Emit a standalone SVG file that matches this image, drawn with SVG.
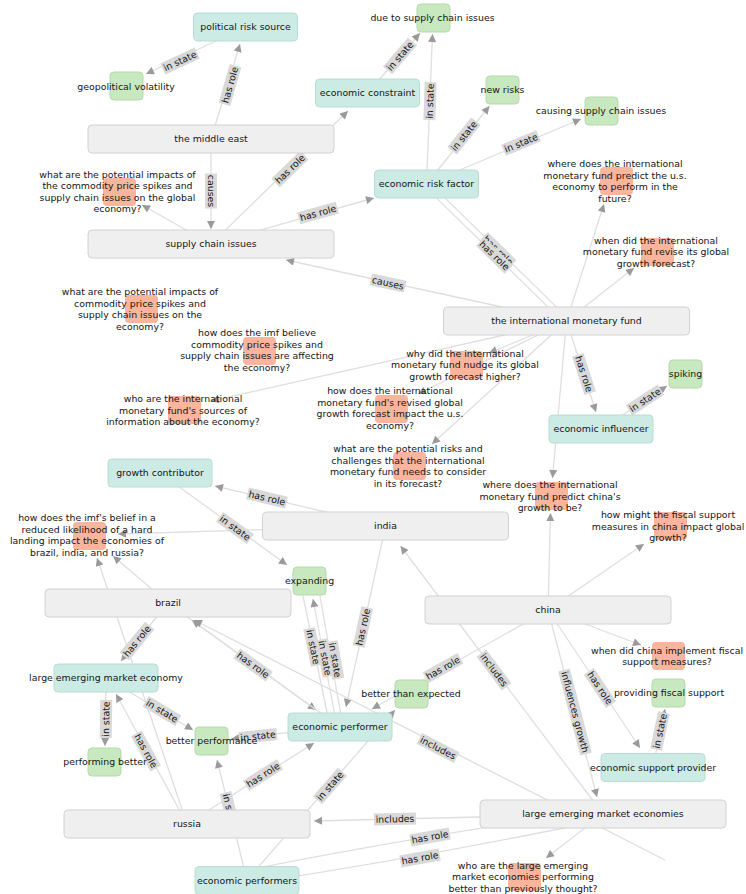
<svg xmlns="http://www.w3.org/2000/svg" width="746" height="894" viewBox="0 0 746 894">
<defs>
<marker id="arr" viewBox="0 0 10 10" refX="10" refY="5" markerWidth="9" markerHeight="8" markerUnits="userSpaceOnUse" orient="auto"><path d="M0,0 L10,5 L0,10 z" fill="#9a9a9a"/></marker>
<style>
.e{fill:none;stroke:#dfdfdf;stroke-width:1.3}
.a{marker-end:url(#arr)}
.el rect{fill:#d9d9d9}
text{font-family:"DejaVu Sans",Verdana,sans-serif;font-size:9.4px;fill:#151515;text-anchor:middle}
.g rect{fill:#efefef;stroke:#d2d2d2}
.t rect{fill:#cdebe5;stroke:#b8dcd4}
.s rect{fill:#c8e8c0;stroke:#b6d9ad}
.q rect{fill:#fab59c}
</style>
</defs>
<rect width="746" height="894" fill="#fff"/>
<g id="connectors">
<path class="e a" d="M245.5,27 L146,74"/>
<path class="e a" d="M211,139 L240,44"/>
<path class="e a" d="M211,244 L348,111"/>
<path class="e a" d="M211,139 L211,229"/>
<path class="e a" d="M211,244 L142,205"/>
<path class="e a" d="M211,244 L374,198"/>
<path class="e a" d="M367.5,93 L420,33"/>
<path class="e a" d="M426.5,184 L432.5,34"/>
<path class="e a" d="M426.5,184 L489.5,106"/>
<path class="e a" d="M426.5,184 L581,119"/>
<path class="e" d="M428.6,181.9 L568.6,318.9"/>
<path class="e" d="M424.4,186.1 L564.4,323.1"/>
<path class="e a" d="M566.5,321 L286,260"/>
<path class="e a" d="M566.5,321 L604,204"/>
<path class="e a" d="M566.5,321 L634,268"/>
<path class="e a" d="M566.5,321 L489,353"/>
<path class="e a" d="M566.5,321 L211,401"/>
<path class="e a" d="M566.5,321 L418,394"/>
<path class="e a" d="M566.5,321 L432,444"/>
<path class="e a" d="M566.5,321 L596,412"/>
<path class="e a" d="M601,429 L667,386"/>
<path class="e a" d="M566.5,321 L552.5,478"/>
<path class="e a" d="M548,610 L550.5,513"/>
<path class="e a" d="M548,610 L644,544"/>
<path class="e a" d="M603,814 L400.5,546"/>
<path class="e a" d="M385.5,526 L215,486"/>
<path class="e a" d="M160,473 L287,565"/>
<path class="e a" d="M385.5,526 L118,534"/>
<path class="e a" d="M168,603 L113,556"/>
<path class="e a" d="M187,824 L97,558"/>
<path class="e a" d="M168,603 L121,661"/>
<path class="e a" d="M168,603 L316,710"/>
<path class="e a" d="M340,727 L192,620"/>
<path class="e a" d="M187,824 L116,694"/>
<path class="e a" d="M106,678 L105,746"/>
<path class="e a" d="M106,678 L193,730"/>
<path class="e a" d="M340,727 L231,739"/>
<path class="e a" d="M247,880 L217,760"/>
<path class="e a" d="M247,880 L395,710"/>
<path class="e a" d="M187,824 L314,743"/>
<path class="e a" d="M385.5,526 L346,707"/>
<path class="e" d="M330,727 L303,596"/>
<path class="e a" d="M337,727 L313,599"/>
<path class="e" d="M343,727 L320,596"/>
<path class="e a" d="M548,610 L372,709"/>
<path class="e a" d="M548,610 L597,797"/>
<path class="e a" d="M548,610 L640,748"/>
<path class="e a" d="M653,767.5 L665,709"/>
<path class="e a" d="M548,610 L641,645"/>
<path class="e a" d="M603,814 L314,821"/>
<path class="e a" d="M603,814 L546,858"/>
<path class="e" d="M247,870 Q430,834 603,810"/>
<path class="e" d="M247,884 Q430,856 603,820"/>
<path class="e a" d="M665,860 L194,620"/>

<g class="el" transform="translate(180,61) rotate(-25)"><rect x="-19" y="-6" width="38" height="12"/><text y="3.3">in state</text></g>
<g class="el" transform="translate(230,85) rotate(-74)"><rect x="-20" y="-6" width="40" height="12"/><text y="3.3">has role</text></g>
<g class="el" transform="translate(290,169) rotate(-44)"><rect x="-20" y="-6" width="40" height="12"/><text y="3.3">has role</text></g>
<g class="el" transform="translate(211,191) rotate(90)"><rect x="-17.5" y="-6" width="35" height="12"/><text y="3.3">causes</text></g>
<g class="el" transform="translate(318,213) rotate(-15.6)"><rect x="-20" y="-6" width="40" height="12"/><text y="3.3">has role</text></g>
<g class="el" transform="translate(400,56) rotate(-49)"><rect x="-19" y="-6" width="38" height="12"/><text y="3.3">in state</text></g>
<g class="el" transform="translate(430,101) rotate(-88)"><rect x="-19" y="-6" width="38" height="12"/><text y="3.3">in state</text></g>
<g class="el" transform="translate(464,136) rotate(-51)"><rect x="-19" y="-6" width="38" height="12"/><text y="3.3">in state</text></g>
<g class="el" transform="translate(521,143) rotate(-22.7)"><rect x="-19" y="-6" width="38" height="12"/><text y="3.3">in state</text></g>
<g class="el" transform="translate(498,250.5) rotate(44.4)"><rect x="-20" y="-6" width="40" height="12"/><text y="3.3">has role</text></g>
<g class="el" transform="translate(494.5,255.5) rotate(44.4)"><rect x="-20" y="-6" width="40" height="12"/><text y="3.3">has role</text></g>
<g class="el" transform="translate(388,283) rotate(12.2)"><rect x="-17.5" y="-6" width="35" height="12"/><text y="3.3">causes</text></g>
<g class="el" transform="translate(584,374) rotate(72)"><rect x="-20" y="-6" width="40" height="12"/><text y="3.3">has role</text></g>
<g class="el" transform="translate(645,400) rotate(-33)"><rect x="-19" y="-6" width="38" height="12"/><text y="3.3">in state</text></g>
<g class="el" transform="translate(494,670) rotate(53)"><rect x="-21" y="-6" width="42" height="12"/><text y="3.3">includes</text></g>
<g class="el" transform="translate(267,498) rotate(13.2)"><rect x="-20" y="-6" width="40" height="12"/><text y="3.3">has role</text></g>
<g class="el" transform="translate(235,528) rotate(35.9)"><rect x="-19" y="-6" width="38" height="12"/><text y="3.3">in state</text></g>
<g class="el" transform="translate(137,641) rotate(-50.4)"><rect x="-20" y="-6" width="40" height="12"/><text y="3.3">has role</text></g>
<g class="el" transform="translate(253,665) rotate(35.8)"><rect x="-20" y="-6" width="40" height="12"/><text y="3.3">has role</text></g>
<g class="el" transform="translate(146,751) rotate(61)"><rect x="-20" y="-6" width="40" height="12"/><text y="3.3">has role</text></g>
<g class="el" transform="translate(106,719) rotate(-89)"><rect x="-19" y="-6" width="38" height="12"/><text y="3.3">in state</text></g>
<g class="el" transform="translate(162,711) rotate(30.9)"><rect x="-19" y="-6" width="38" height="12"/><text y="3.3">in state</text></g>
<g class="el" transform="translate(258,736) rotate(-6.2)"><rect x="-19" y="-6" width="38" height="12"/><text y="3.3">in state</text></g>
<g class="el" transform="translate(230,811) rotate(76)"><rect x="-19" y="-6" width="38" height="12"/><text y="3.3">in state</text></g>
<g class="el" transform="translate(330,786) rotate(-48.9)"><rect x="-19" y="-6" width="38" height="12"/><text y="3.3">in state</text></g>
<g class="el" transform="translate(263,775) rotate(-32.5)"><rect x="-20" y="-6" width="40" height="12"/><text y="3.3">has role</text></g>
<g class="el" transform="translate(363,627) rotate(-77.7)"><rect x="-20" y="-6" width="40" height="12"/><text y="3.3">has role</text></g>
<g class="el" transform="translate(313,647) rotate(78.4)"><rect x="-19" y="-6" width="38" height="12"/><text y="3.3">in state</text></g>
<g class="el" transform="translate(325,658) rotate(79)"><rect x="-19" y="-6" width="38" height="12"/><text y="3.3">in state</text></g>
<g class="el" transform="translate(335,660) rotate(80)"><rect x="-19" y="-6" width="38" height="12"/><text y="3.3">in state</text></g>
<g class="el" transform="translate(443,668) rotate(-29.4)"><rect x="-20" y="-6" width="40" height="12"/><text y="3.3">has role</text></g>
<g class="el" transform="translate(575,712) rotate(75.3)"><rect x="-43.5" y="-6" width="87" height="12"/><text y="3.3">influences growth</text></g>
<g class="el" transform="translate(600,688) rotate(56.3)"><rect x="-20" y="-6" width="40" height="12"/><text y="3.3">has role</text></g>
<g class="el" transform="translate(660,731) rotate(-78)"><rect x="-19" y="-6" width="38" height="12"/><text y="3.3">in state</text></g>
<g class="el" transform="translate(395,819) rotate(-1.4)"><rect x="-21" y="-6" width="42" height="12"/><text y="3.3">includes</text></g>
<g class="el" transform="translate(430,837) rotate(-10)"><rect x="-20" y="-6" width="40" height="12"/><text y="3.3">has role</text></g>
<g class="el" transform="translate(420,858) rotate(-10)"><rect x="-20" y="-6" width="40" height="12"/><text y="3.3">has role</text></g>
<g class="el" transform="translate(438,748) rotate(27.2)"><rect x="-21" y="-6" width="42" height="12"/><text y="3.3">includes</text></g>
</g>

<g id="n-middle-east" class="g"><rect x="88" y="125" width="246" height="28" rx="4"/><text x="211" y="142.4">the middle east</text></g>
<g id="n-supply-chain-issues" class="g"><rect x="88" y="230" width="246" height="28" rx="4"/><text x="211" y="247.4">supply chain issues</text></g>
<g id="n-imf" class="g"><rect x="443.5" y="307" width="246" height="28" rx="4"/><text x="566.5" y="324.4">the international monetary fund</text></g>
<g id="n-india" class="g"><rect x="262.5" y="512" width="246" height="28" rx="4"/><text x="385.5" y="529.4">india</text></g>
<g id="n-brazil" class="g"><rect x="45" y="589" width="246" height="28" rx="4"/><text x="168" y="606.4">brazil</text></g>
<g id="n-china" class="g"><rect x="425" y="596" width="246" height="28" rx="4"/><text x="548" y="613.4">china</text></g>
<g id="n-leme" class="g"><rect x="480" y="800" width="246" height="28" rx="4"/><text x="603" y="817.4">large emerging market economies</text></g>
<g id="n-russia" class="g"><rect x="64" y="810" width="246" height="28" rx="4"/><text x="187" y="827.4">russia</text></g>

<g id="n-political-risk-source" class="t"><rect x="193.5" y="13" width="104" height="28" rx="4"/><text x="245.5" y="30.4">political risk source</text></g>
<g id="n-economic-constraint" class="t"><rect x="315.5" y="79" width="104" height="28" rx="4"/><text x="367.5" y="96.4">economic constraint</text></g>
<g id="n-economic-risk-factor" class="t"><rect x="374.5" y="170" width="104" height="28" rx="4"/><text x="426.5" y="187.4">economic risk factor</text></g>
<g id="n-economic-influencer" class="t"><rect x="549" y="415" width="104" height="28" rx="4"/><text x="601" y="432.4">economic influencer</text></g>
<g id="n-growth-contributor" class="t"><rect x="108" y="459" width="104" height="28" rx="4"/><text x="160" y="476.4">growth contributor</text></g>
<g id="n-lem-economy" class="t"><rect x="54" y="664" width="104" height="28" rx="4"/><text x="106" y="681.4">large emerging market economy</text></g>
<g id="n-economic-performer" class="t"><rect x="288" y="713" width="104" height="28" rx="4"/><text x="340" y="730.4">economic performer</text></g>
<g id="n-economic-support-provider" class="t"><rect x="601" y="753.5" width="104" height="28" rx="4"/><text x="653" y="770.9">economic support provider</text></g>
<g id="n-economic-performers" class="t"><rect x="195" y="866.5" width="104" height="28" rx="4"/><text x="247" y="883.9">economic performers</text></g>

<g id="n-geopolitical-volatility" class="s"><rect x="110" y="72" width="33" height="28" rx="4"/><text x="126" y="90.4">geopolitical volatility</text></g>
<g id="n-due-to-supply" class="s"><rect x="417" y="4" width="33" height="28" rx="4"/><text x="432.5" y="21.4">due to supply chain issues</text></g>
<g id="n-new-risks" class="s"><rect x="486" y="76" width="33" height="28" rx="4"/><text x="502.5" y="93.4">new risks</text></g>
<g id="n-causing-supply" class="s"><rect x="585" y="97" width="33" height="28" rx="4"/><text x="601" y="114.4">causing supply chain issues</text></g>
<g id="n-spiking" class="s"><rect x="669" y="360" width="33" height="28" rx="4"/><text x="685.5" y="377.4">spiking</text></g>
<g id="n-expanding" class="s"><rect x="293" y="567" width="33" height="28" rx="4"/><text x="309.5" y="584.4">expanding</text></g>
<g id="n-better-than-expected" class="s"><rect x="395" y="680" width="33" height="28" rx="4"/><text x="411" y="696.9">better than expected</text></g>
<g id="n-better-performance" class="s"><rect x="195" y="727" width="33" height="28" rx="4"/><text x="211.5" y="744.4">better performance</text></g>
<g id="n-performing-better" class="s"><rect x="88" y="748" width="33" height="28" rx="4"/><text x="105" y="765.4">performing better</text></g>
<g id="n-providing-fiscal" class="s"><rect x="652" y="679" width="33" height="28" rx="4"/><text x="669" y="696.4">providing fiscal support</text></g>

<g id="n-q1" class="q"><rect x="103" y="178" width="33" height="28" rx="4"/><text x="117.5" y="177.9">what are the potential impacts of</text><text x="117.5" y="189.4">the commodity price spikes and</text><text x="117.5" y="200.9">supply chain issues on the global</text><text x="117.5" y="212.4">economy?</text></g>
<g id="n-q-us" class="q"><rect x="600" y="167" width="33" height="28" rx="4"/><text x="615" y="167.4">where does the international</text><text x="615" y="178.9">monetary fund predict the u.s.</text><text x="615" y="190.4">economy to perform in the</text><text x="615" y="201.9">future?</text></g>
<g id="n-q-revise" class="q"><rect x="641" y="238" width="33" height="28" rx="4"/><text x="656" y="243.9">when did the international</text><text x="656" y="255.4">monetary fund revise its global</text><text x="656" y="266.9">growth forecast?</text></g>
<g id="n-q2" class="q"><rect x="125" y="295" width="33" height="28" rx="4"/><text x="140" y="295.4">what are the potential impacts of</text><text x="140" y="306.9">commodity price spikes and</text><text x="140" y="318.4">supply chain issues on the</text><text x="140" y="329.9">economy?</text></g>
<g id="n-q3" class="q"><rect x="243" y="337" width="33" height="28" rx="4"/><text x="257" y="336.4">how does the imf believe</text><text x="257" y="347.9">commodity price spikes and</text><text x="257" y="359.4">supply chain issues are affecting</text><text x="257" y="370.9">the economy?</text></g>
<g id="n-q4" class="q"><rect x="168" y="396" width="33" height="28" rx="4"/><text x="183" y="402.4">who are the international</text><text x="183" y="413.9">monetary fund's sources of</text><text x="183" y="425.4">information about the economy?</text></g>
<g id="n-q5" class="q"><rect x="450" y="351" width="33" height="28" rx="4"/><text x="465" y="356.9">why did the international</text><text x="465" y="368.4">monetary fund nudge its global</text><text x="465" y="379.9">growth forecast higher?</text></g>
<g id="n-q6" class="q"><rect x="375" y="395" width="33" height="28" rx="4"/><text x="390" y="394.4">how does the international</text><text x="390" y="405.9">monetary fund's revised global</text><text x="390" y="417.4">growth forecast impact the u.s.</text><text x="390" y="428.9">economy?</text></g>
<g id="n-q7" class="q"><rect x="393" y="452" width="33" height="28" rx="4"/><text x="408" y="452.4">what are the potential risks and</text><text x="408" y="463.9">challenges that the international</text><text x="408" y="475.4">monetary fund needs to consider</text><text x="408" y="486.9">in its forecast?</text></g>
<g id="n-q8" class="q"><rect x="535" y="482" width="33" height="28" rx="4"/><text x="550" y="488.4">where does the international</text><text x="550" y="499.9">monetary fund predict china's</text><text x="550" y="511.4">growth to be?</text></g>
<g id="n-q9" class="q"><rect x="654" y="512" width="33" height="28" rx="4"/><text x="668" y="518.4">how might the fiscal support</text><text x="668" y="529.9">measures in china impact global</text><text x="668" y="541.4">growth?</text></g>
<g id="n-q10" class="q"><rect x="73" y="522" width="33" height="28" rx="4"/><text x="87" y="521.4">how does the imf's belief in a</text><text x="87" y="532.9">reduced likelihood of a hard</text><text x="87" y="544.4">landing impact the economies of</text><text x="87" y="555.9">brazil, india, and russia?</text></g>
<g id="n-q-china" class="q"><rect x="652" y="642" width="33" height="28" rx="4"/><text x="667" y="653.9">when did china implement fiscal</text><text x="667" y="665.4">support measures?</text></g>
<g id="n-q11" class="q"><rect x="508" y="863" width="33" height="28" rx="4"/><text x="523" y="868.9">who are the large emerging</text><text x="523" y="880.4">market economies performing</text><text x="523" y="891.9">better than previously thought?</text></g>
</svg>
